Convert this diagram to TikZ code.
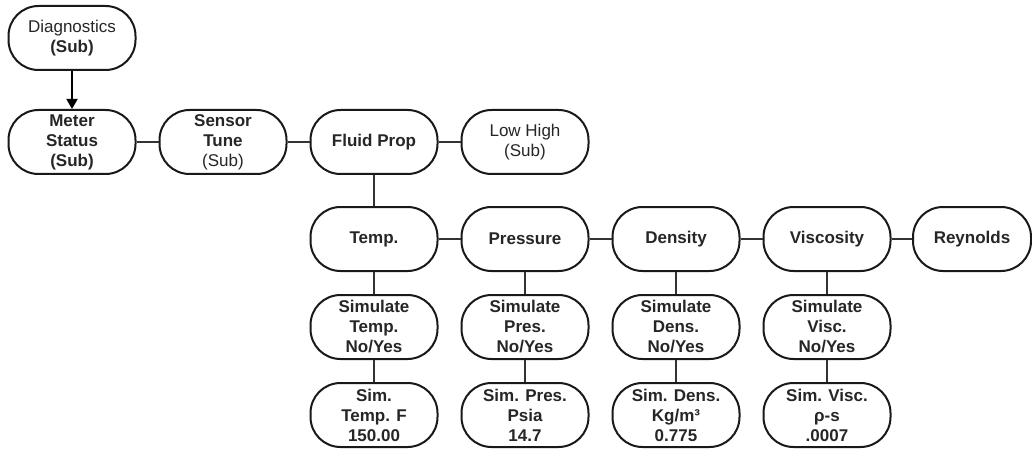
\documentclass[tikz,border=0pt]{standalone}
\usepackage{fontspec}
\setmainfont{Liberation Sans}
\usetikzlibrary{arrows.meta}
\begin{document}
\begin{tikzpicture}[x=1pt,y=-1pt,
  box/.style={draw=black!90,line width=2pt,rounded corners=30pt,
    minimum width=127pt,minimum height=64pt,inner sep=0pt,align=center,
    font=\fontsize{17}{20}\selectfont\bfseries,text=black!85},
  link/.style={draw=black!80,line width=2.4pt},
  arr/.style={draw=black,line width=1.8pt,-{Triangle[length=10pt,width=11pt]}}]
\useasboundingbox (0,0) rectangle (1032,449);
\fill[white] (0,0) rectangle (1032,449);
% row 1
\node[box] (diag) at (72,38) {\mdseries Diagnostics\\(Sub)};
% row 2
\node[box] (meter) at (72,142) {Meter\\Status\\(Sub)};
\node[box] (sensor) at (223,142) {Sensor\\Tune\\\mdseries(Sub)};
\node[box] (fluid) at (374,142) {Fluid Prop};
\node[box] (lowhigh) at (525,142) {\mdseries Low High\\\mdseries(Sub)};
% row 3
\node[box] (temp) at (374,239) {Temp.};
\node[box] (pres) at (525,239) {Pressure};
\node[box] (dens) at (676,239) {Density};
\node[box] (visc) at (827,239) {Viscosity};
\node[box,minimum width=118pt] (reyn) at (972,239) {Reynolds};
% row 4
\node[box] (simtemp) at (374,327) {Simulate\\Temp.\\No/Yes};
\node[box] (simpres) at (525,327) {Simulate\\Pres.\\No/Yes};
\node[box] (simdens) at (676,327) {Simulate\\Dens.\\No/Yes};
\node[box] (simvisc) at (827,327) {Simulate\\Visc.\\No/Yes};
% row 5
\node[box] (vtemp) at (374,415) {Sim.\\Temp. F\\150.00};
\node[box] (vpres) at (525,415) {Sim. Pres.\\Psia\\14.7};
\node[box] (vdens) at (676,415) {Sim. Dens.\\Kg/m³\\0.775};
\node[box] (vvisc) at (827,415) {Sim. Visc.\\ρ-s\\.0007};
% connectors
\draw[arr] (diag) -- (meter);
\draw[link] (meter) -- (sensor);
\draw[link] (sensor) -- (fluid);
\draw[link] (fluid) -- (lowhigh);
\draw[link] (fluid) -- (temp);
\draw[link] (temp) -- (pres);
\draw[link] (pres) -- (dens);
\draw[link] (dens) -- (visc);
\draw[link] (visc) -- (reyn);
\draw[link] (temp) -- (simtemp);
\draw[link] (pres) -- (simpres);
\draw[link] (dens) -- (simdens);
\draw[link] (visc) -- (simvisc);
\draw[link] (simtemp) -- (vtemp);
\draw[link] (simpres) -- (vpres);
\draw[link] (simdens) -- (vdens);
\draw[link] (simvisc) -- (vvisc);
\end{tikzpicture}
\end{document}
